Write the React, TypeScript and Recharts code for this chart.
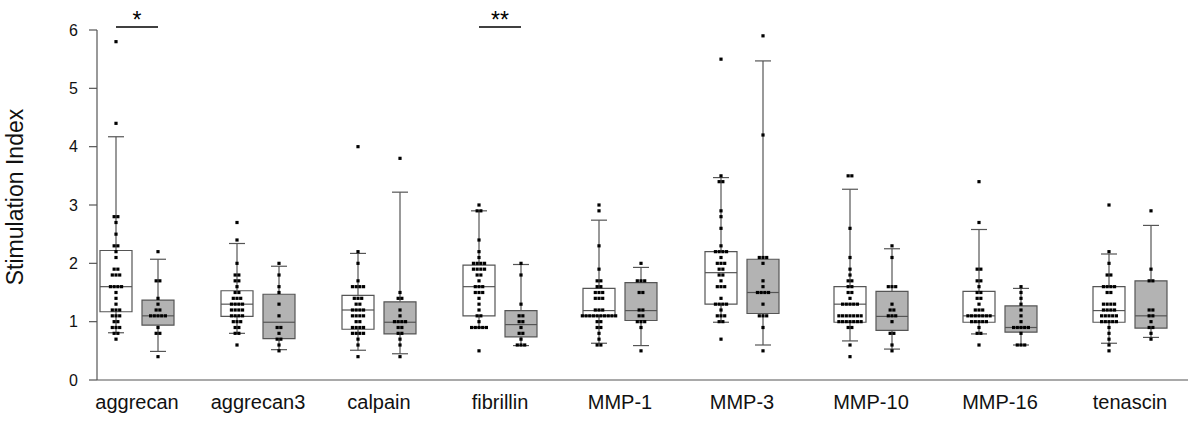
import {
  ComposedChart,
  XAxis,
  YAxis,
  Scatter,
  ReferenceArea,
  ReferenceLine,
} from "recharts";

const categories = [
  "aggrecan",
  "aggrecan3",
  "calpain",
  "fibrillin",
  "MMP-1",
  "MMP-3",
  "MMP-10",
  "MMP-16",
  "tenascin",
];

// [lower whisker, Q1, median, Q3, upper whisker]
const whiteStats = [
  [0.81, 1.17, 1.6, 2.22, 4.17],
  [0.8, 1.09, 1.3, 1.53, 2.34],
  [0.51, 0.87, 1.2, 1.45, 2.17],
  [0.9, 1.1, 1.6, 1.97, 2.9],
  [0.63, 1.1, 1.19, 1.57, 2.74],
  [0.99, 1.3, 1.84, 2.2, 3.47],
  [0.67, 0.99, 1.3, 1.6, 3.27],
  [0.79, 0.99, 1.1, 1.52, 2.58],
  [0.63, 0.99, 1.19, 1.6, 2.16],
];

const grayStats = [
  [0.49, 0.94, 1.1, 1.37, 2.07],
  [0.52, 0.71, 0.99, 1.47, 1.95],
  [0.45, 0.79, 0.99, 1.34, 3.22],
  [0.59, 0.74, 0.95, 1.19, 1.98],
  [0.59, 1.02, 1.19, 1.67, 1.93],
  [0.6, 1.14, 1.5, 2.07, 5.47],
  [0.53, 0.85, 1.09, 1.52, 2.25],
  [0.6, 0.82, 0.9, 1.27, 1.57],
  [0.73, 0.89, 1.1, 1.7, 2.65],
];

const whitePoints = [
  [5.8, 4.4, 2.8, 2.8, 2.7, 2.5, 2.3, 2.3, 2.2, 2.1, 1.9, 1.9, 1.8, 1.8, 1.8, 1.6, 1.6, 1.6, 1.6, 1.5, 1.4, 1.3, 1.2, 1.2, 1.2, 1.1, 1.1, 1.1, 1.0, 1.0, 0.9, 0.9, 0.9, 0.8, 0.8, 0.7],
  [2.7, 2.4, 2.0, 1.8, 1.8, 1.7, 1.7, 1.6, 1.5, 1.5, 1.4, 1.4, 1.4, 1.3, 1.3, 1.3, 1.3, 1.2, 1.2, 1.2, 1.2, 1.1, 1.1, 1.1, 1.1, 1.0, 1.0, 1.0, 0.9, 0.9, 0.8, 0.8, 0.6],
  [4.0, 2.2, 2.0, 1.7, 1.6, 1.6, 1.6, 1.6, 1.4, 1.4, 1.4, 1.3, 1.3, 1.2, 1.2, 1.2, 1.2, 1.1, 1.1, 1.1, 1.1, 1.0, 1.0, 0.9, 0.9, 0.9, 0.9, 0.8, 0.8, 0.8, 0.8, 0.7, 0.6, 0.4],
  [3.0, 2.9, 2.9, 2.4, 2.2, 2.1, 2.0, 2.0, 2.0, 2.0, 1.9, 1.9, 1.9, 1.9, 1.8, 1.8, 1.7, 1.6, 1.6, 1.6, 1.5, 1.5, 1.5, 1.4, 1.3, 1.2, 1.1, 1.1, 1.0, 0.9, 0.9, 0.9, 0.9, 0.9, 0.5],
  [3.0, 2.9, 2.3, 1.9, 1.7, 1.7, 1.6, 1.6, 1.5, 1.5, 1.5, 1.4, 1.4, 1.4, 1.2, 1.2, 1.2, 1.1, 1.1, 1.1, 1.1, 1.1, 1.1, 1.1, 1.1, 1.1, 1.1, 1.0, 1.0, 0.9, 0.9, 0.8, 0.7, 0.6, 0.6],
  [5.5, 3.5, 3.4, 3.4, 2.9, 2.8, 2.6, 2.3, 2.2, 2.2, 2.2, 2.2, 2.1, 2.0, 2.0, 2.0, 1.9, 1.9, 1.8, 1.8, 1.7, 1.6, 1.6, 1.6, 1.4, 1.3, 1.3, 1.3, 1.3, 1.2, 1.1, 1.1, 1.1, 1.0, 1.0, 0.7],
  [3.5, 3.5, 2.6, 2.1, 1.9, 1.8, 1.7, 1.7, 1.6, 1.6, 1.5, 1.5, 1.4, 1.3, 1.3, 1.3, 1.3, 1.3, 1.1, 1.1, 1.1, 1.1, 1.1, 1.1, 1.1, 1.0, 1.0, 1.0, 1.0, 1.0, 1.0, 1.0, 0.9, 0.9, 0.6, 0.4],
  [3.4, 2.7, 1.9, 1.9, 1.7, 1.7, 1.6, 1.5, 1.5, 1.4, 1.4, 1.3, 1.2, 1.2, 1.2, 1.1, 1.1, 1.1, 1.1, 1.1, 1.1, 1.1, 1.0, 1.0, 1.0, 1.0, 1.0, 0.9, 0.8, 0.8, 0.6],
  [3.0, 2.2, 2.0, 1.8, 1.8, 1.6, 1.6, 1.6, 1.6, 1.5, 1.5, 1.3, 1.3, 1.3, 1.3, 1.2, 1.2, 1.2, 1.2, 1.1, 1.1, 1.1, 1.1, 1.1, 1.0, 1.0, 1.0, 1.0, 1.0, 0.9, 0.8, 0.7, 0.6, 0.5],
];

const grayPoints = [
  [2.2, 1.7, 1.7, 1.4, 1.3, 1.2, 1.2, 1.1, 1.1, 1.1, 1.1, 1.1, 0.9, 0.8, 0.8, 0.4],
  [2.0, 1.8, 1.6, 1.5, 1.3, 1.1, 0.9, 0.9, 0.8, 0.7, 0.7, 0.6, 0.5],
  [3.8, 1.5, 1.4, 1.4, 1.2, 1.1, 1.0, 1.0, 1.0, 1.0, 0.9, 0.9, 0.8, 0.8, 0.7, 0.6, 0.4],
  [2.0, 1.8, 1.3, 1.1, 1.1, 1.0, 1.0, 0.9, 0.8, 0.8, 0.7, 0.6, 0.6, 0.6],
  [2.0, 1.7, 1.7, 1.7, 1.5, 1.5, 1.2, 1.2, 1.1, 1.1, 1.0, 1.0, 1.0, 0.9, 0.5],
  [5.9, 4.2, 2.1, 2.1, 2.1, 2.0, 1.7, 1.6, 1.5, 1.5, 1.5, 1.5, 1.3, 1.1, 1.1, 1.1, 0.9, 0.5],
  [2.3, 2.1, 1.6, 1.6, 1.6, 1.3, 1.2, 1.2, 1.1, 1.1, 1.1, 1.0, 0.8, 0.8, 0.6, 0.5],
  [1.6, 1.5, 1.4, 1.3, 1.2, 1.1, 1.0, 0.9, 0.9, 0.9, 0.9, 0.9, 0.8, 0.6, 0.6, 0.6],
  [2.9, 1.9, 1.7, 1.7, 1.2, 1.2, 1.1, 1.1, 1.0, 0.9, 0.9, 0.8, 0.7],
];

const significance = [
  { cat: 0, text: "*" },
  { cat: 3, text: "**" },
];

// layout: x axis runs in plot pixels, groups sit where the original figure put them
const groupX = [40, 161, 282, 403, 523, 645, 774, 903, 1033];
const PAIR = 21;
const HALF = 16;
const CAP = 8;
const STEP = 3.7;
const DOT = 3.2;

// spread equal values side by side, like the original dot rows
function swarm(values: number[], cx: number) {
  const counts: Record<string, number> = {};
  values.forEach((v) => (counts[v] = (counts[v] || 0) + 1));
  const seen: Record<string, number> = {};
  return values.map((v) => {
    const k = (seen[v] = (seen[v] ?? -1) + 1);
    return { x: cx + (k - (counts[v] - 1) / 2) * STEP, y: v };
  });
}

const points = categories.flatMap((_, i) => [
  ...swarm(whitePoints[i], groupX[i] - PAIR),
  ...swarm(grayPoints[i], groupX[i] + PAIR),
]);

function box(key: string, cx: number, s: number[], fill: string) {
  const [lo, q1, med, q3, hi] = s;
  const line = { stroke: "#555", strokeWidth: 1.2 };
  return [
    <ReferenceLine key={key + "w1"} segment={[{ x: cx, y: hi }, { x: cx, y: q3 }]} {...line} />,
    <ReferenceLine key={key + "w2"} segment={[{ x: cx, y: q1 }, { x: cx, y: lo }]} {...line} />,
    <ReferenceLine key={key + "c1"} segment={[{ x: cx - CAP, y: hi }, { x: cx + CAP, y: hi }]} {...line} />,
    <ReferenceLine key={key + "c2"} segment={[{ x: cx - CAP, y: lo }, { x: cx + CAP, y: lo }]} {...line} />,
    <ReferenceArea
      key={key + "b"}
      x1={cx - HALF}
      x2={cx + HALF}
      y1={q1}
      y2={q3}
      fill={fill}
      fillOpacity={1}
      stroke="#555"
      strokeWidth={1.2}
    />,
    <ReferenceLine key={key + "m"} segment={[{ x: cx - HALF, y: med }, { x: cx + HALF, y: med }]} {...line} />,
  ];
}

const Square = (p: any) => (
  <rect x={p.cx - DOT / 2} y={p.cy - DOT / 2} width={DOT} height={DOT} fill="#000" />
);

export default function App() {
  return (
    <div
      style={{
        position: "absolute",
        left: 0,
        top: 0,
        fontFamily: "'Liberation Sans', Arial, sans-serif",
      }}
    >
      <ComposedChart
        width={1200}
        height={429}
        margin={{ top: 30, right: 12, bottom: 9, left: 0 }}
      >
        <XAxis
          dataKey="x"
          type="number"
          domain={[0, 1091]}
          ticks={groupX}
          interval={0}
          tickFormatter={(v) => categories[groupX.indexOf(v)]}
          tickLine={false}
          tickMargin={9}
          height={40}
          axisLine={{ stroke: "#555", strokeWidth: 1.2 }}
          tick={{ fontSize: 20, fill: "#111" }}
        />
        <YAxis
          dataKey="y"
          type="number"
          domain={[0, 6]}
          ticks={[0, 1, 2, 3, 4, 5, 6]}
          width={97}
          tickSize={8}
          tickMargin={11}
          axisLine={{ stroke: "#555", strokeWidth: 1.2 }}
          tickLine={{ stroke: "#555", strokeWidth: 1.2 }}
          tick={{ fontSize: 16, fill: "#111" }}
          label={{
            value: "Stimulation Index",
            angle: -90,
            position: "center",
            dx: -34,
            dy: -8,
            fontSize: 23,
            fill: "#111",
          }}
        />
        {categories.flatMap((c, i) => [
          ...box(c + "w", groupX[i] - PAIR, whiteStats[i], "#fff"),
          ...box(c + "g", groupX[i] + PAIR, grayStats[i], "#b3b3b3"),
        ])}
        {significance.map((s) => (
          <ReferenceLine
            key={s.text}
            segment={[
              { x: groupX[s.cat] - PAIR, y: 6.05 },
              { x: groupX[s.cat] + PAIR, y: 6.05 },
            ]}
            stroke="#000"
            strokeWidth={1.5}
            ifOverflow="visible"
            label={{ value: s.text, position: "top", offset: -1, fontSize: 23, fill: "#000" }}
          />
        ))}
        <Scatter data={points} shape={Square} isAnimationActive={false} />
      </ComposedChart>
    </div>
  );
}
